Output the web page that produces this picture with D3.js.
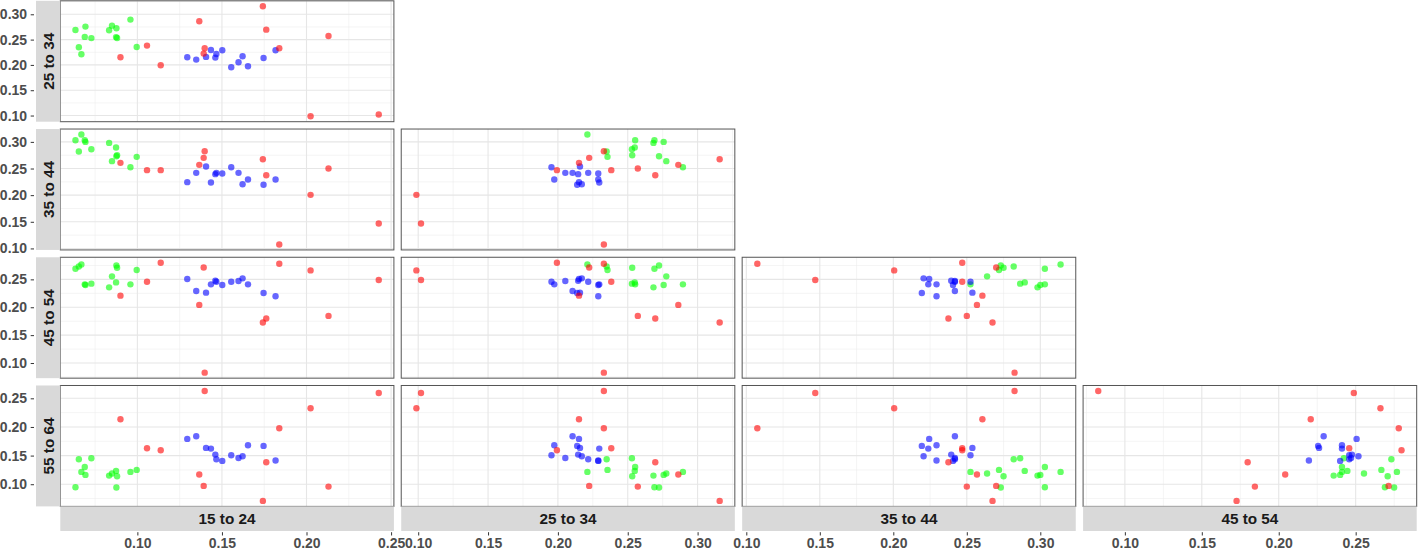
<!DOCTYPE html>
<html><head><meta charset="utf-8">
<script src="https://cdn.jsdelivr.net/npm/d3@7"></script>
<style>body{margin:0;background:#fff}svg{display:block}</style>
</head><body><svg id="chart" width="1418" height="550"></svg>
<script>
// ---- data ----
const variables = ["15 to 24", "25 to 34", "35 to 44", "45 to 54", "55 to 64"];
const cluster = [
  "1","1","1","1","1","1","1","1","1","1","1","1","1",
  "2","2","2","2","2","2","2","2","2","2","2","2","2",
  "3","3","3","3","3","3","3","3","3","3","3","3"
];
const age15_24 = [
  0.0634, 0.0654, 0.0669, 0.0689, 0.0693, 0.0728, 0.0833, 0.0850, 0.0876, 0.0880, 0.0874, 0.0959, 0.0996,
  0.1295, 0.1348, 0.1406, 0.1435, 0.1461, 0.1467, 0.1502, 0.1555, 0.1598, 0.1622, 0.1654, 0.1746, 0.1817,
  0.0900, 0.1057, 0.1138, 0.1366, 0.1392, 0.1398, 0.1742, 0.1762, 0.1839, 0.2024, 0.2130, 0.2427
];
const age25_34 = [
  0.2691, 0.2349, 0.2211, 0.2553, 0.2757, 0.2530, 0.2684, 0.2776, 0.2724, 0.2532, 0.2550, 0.2895, 0.2355,
  0.2151, 0.2105, 0.2158, 0.2296, 0.2145, 0.2217, 0.2289, 0.1954, 0.2053, 0.2171, 0.1974, 0.2138, 0.2289,
  0.2151, 0.2382, 0.1993, 0.2862, 0.2224, 0.2329, 0.3158, 0.2697, 0.2329, 0.0987, 0.2572, 0.1020
];
const age35_44 = [
  0.3031, 0.2819, 0.3138, 0.3031, 0.3000, 0.2863, 0.2981, 0.2638, 0.2731, 0.2750, 0.2894, 0.2525, 0.2719,
  0.2244, 0.2419, 0.2538, 0.2238, 0.2394, 0.2419, 0.2406, 0.2525, 0.2419, 0.2206, 0.2294, 0.2194, 0.2294,
  0.2606, 0.2469, 0.2469, 0.2569, 0.2700, 0.2825, 0.2675, 0.2375, 0.1075, 0.2006, 0.2500, 0.1469
];
const age45_54 = [
  0.2690, 0.2732, 0.2768, 0.2411, 0.2399, 0.2423, 0.2357, 0.2554, 0.2750, 0.2708, 0.2446, 0.2411, 0.2667,
  0.2506, 0.2292, 0.2262, 0.2411, 0.2476, 0.2458, 0.2399, 0.2458, 0.2470, 0.2518, 0.2411, 0.2256, 0.2196,
  0.2208, 0.2458, 0.2798, 0.2042, 0.2714, 0.0827, 0.1726, 0.1798, 0.2780, 0.2661, 0.1845, 0.2488
];
const age55_64 = [
  0.0948, 0.1436, 0.1215, 0.1302, 0.1163, 0.1453, 0.1151, 0.1186, 0.0942, 0.1140, 0.1233, 0.1215, 0.1250,
  0.1791, 0.1837, 0.1634, 0.1622, 0.1517, 0.1436, 0.1407, 0.1506, 0.1459, 0.1488, 0.1680, 0.1669, 0.1413,
  0.2134, 0.1628, 0.1593, 0.1169, 0.0971, 0.2628, 0.0709, 0.1384, 0.1977, 0.2326, 0.0959, 0.2593
];
const ticks15_24 = [0.10, 0.15, 0.20, 0.25];
const ticks25_34 = [0.10, 0.15, 0.20, 0.25, 0.30];
const ticks35_44 = [0.10, 0.15, 0.20, 0.25, 0.30];
const ticks45_54 = [0.10, 0.15, 0.20, 0.25];
const ticks55_64 = [0.10, 0.15, 0.20, 0.25];
const clusterColors = {"1": "#00FF00", "2": "#0000FF", "3": "#FF0000"};

// ---- build ----
const columns = [age15_24, age25_34, age35_44, age45_54, age55_64];
const tickSets = [ticks15_24, ticks25_34, ticks35_44, ticks45_54, ticks55_64];
const obs = cluster.map((c, i) => ({cluster: c, v: columns.map(col => col[i])}));

const svg = d3.select("#chart");
const leftX = 60.3, topY = 0.8, colW = 333.6, rowH = 120.9, gap = 7.33;
const stripW = 24.3, stripH = 24.6;
const nRow = 4, nCol = 4;
const bottomPanels = topY + nRow * rowH + (nRow - 1) * gap;
const font = "'Liberation Sans', Arial, Helvetica, sans-serif";

function expanded(vals) {
  const [a, b] = d3.extent(vals);
  const s = b - a;
  return [a - 0.05 * s, b + 0.05 * s];
}
function minorBreaks(domain, ticks) {
  const step = ticks[1] - ticks[0];
  const out = [];
  for (let k = -1; k < ticks.length; k++) {
    const m = ticks[0] + (k + 0.5) * step;
    if (m >= domain[0] && m <= domain[1]) out.push(m);
  }
  return out;
}

const xScales = [], yScales = [];
for (let c = 0; c < nCol; c++) {
  const x0 = leftX + c * (colW + gap);
  xScales.push(d3.scaleLinear().domain(expanded(columns[c])).range([x0, x0 + colW]));
}
for (let r = 0; r < nRow; r++) {
  const y0 = topY + r * (rowH + gap);
  yScales.push(d3.scaleLinear().domain(expanded(columns[r + 1])).range([y0 + rowH, y0]));
}

for (let r = 0; r < nRow; r++) {
  for (let c = 0; c <= r; c++) {
    const xs = xScales[c], ys = yScales[r];
    const xv = c, yv = r + 1;
    const g = svg.append("g");
    const [x0, x1] = xs.range();
    const [y1, y0] = ys.range();
    g.append("rect").attr("x", x0).attr("y", y0).attr("width", x1 - x0).attr("height", y1 - y0).attr("fill", "#fff");
    g.selectAll(".mx").data(minorBreaks(xs.domain(), tickSets[xv])).join("line").attr("class", "mx")
      .attr("x1", d => xs(d)).attr("x2", d => xs(d)).attr("y1", y0).attr("y2", y1)
      .attr("stroke", "#ebebeb").attr("stroke-width", 0.55);
    g.selectAll(".my").data(minorBreaks(ys.domain(), tickSets[yv])).join("line").attr("class", "my")
      .attr("y1", d => ys(d)).attr("y2", d => ys(d)).attr("x1", x0).attr("x2", x1)
      .attr("stroke", "#ebebeb").attr("stroke-width", 0.55);
    g.selectAll(".Mx").data(tickSets[xv]).join("line").attr("class", "Mx")
      .attr("x1", d => xs(d)).attr("x2", d => xs(d)).attr("y1", y0).attr("y2", y1)
      .attr("stroke", "#e6e6e6").attr("stroke-width", 1.1);
    g.selectAll(".My").data(tickSets[yv]).join("line").attr("class", "My")
      .attr("y1", d => ys(d)).attr("y2", d => ys(d)).attr("x1", x0).attr("x2", x1)
      .attr("stroke", "#e6e6e6").attr("stroke-width", 1.1);
    g.selectAll("circle").data(obs).join("circle")
      .attr("cx", d => xs(d.v[xv])).attr("cy", d => ys(d.v[yv])).attr("r", 3.2)
      .attr("fill", d => clusterColors[d.cluster]).attr("fill-opacity", 0.6);
    g.append("rect").attr("x", x0).attr("y", y0).attr("width", x1 - x0).attr("height", y1 - y0)
      .attr("fill", "none").attr("stroke", "#555").attr("stroke-width", 1);
  }
}

// left strips + y axes
for (let r = 0; r < nRow; r++) {
  const ys = yScales[r];
  const [y1, y0] = ys.range();
  svg.append("rect").attr("x", leftX - stripW).attr("y", y0).attr("width", stripW).attr("height", y1 - y0).attr("fill", "#d9d9d9");
  const cy = (y0 + y1) / 2, cx = leftX - stripW / 2;
  svg.append("text").attr("transform", `translate(${cx + 5.5},${cy}) rotate(-90)`)
    .attr("text-anchor", "middle").attr("font-family", font).attr("font-weight", "bold")
    .attr("font-size", 15.3).attr("fill", "#1a1a1a").text(variables[r + 1]);
  const ax = svg.append("g").attr("transform", `translate(${leftX - stripW - 2},0)`)
    .call(d3.axisLeft(ys).tickValues(tickSets[r + 1]).tickSize(3.3).tickPadding(3.6).tickFormat(d3.format(".2f")));
  ax.select(".domain").remove();
  ax.selectAll("line").attr("stroke", "#333").attr("stroke-width", 1);
  ax.selectAll("text").attr("font-family", font).attr("font-weight", "bold").attr("font-size", 14).attr("fill", "#4d4d4d");
}
// bottom strips + x axes
for (let c = 0; c < nCol; c++) {
  const xs = xScales[c];
  const [x0, x1] = xs.range();
  svg.append("rect").attr("x", x0).attr("y", bottomPanels).attr("width", x1 - x0).attr("height", stripH).attr("fill", "#d9d9d9");
  svg.append("text").attr("x", (x0 + x1) / 2).attr("y", bottomPanels + stripH / 2 + 5.5)
    .attr("text-anchor", "middle").attr("font-family", font).attr("font-weight", "bold")
    .attr("font-size", 15.3).attr("fill", "#1a1a1a").text(variables[c]);
  const ax = svg.append("g").attr("transform", `translate(0,${bottomPanels + stripH + 1.2})`)
    .call(d3.axisBottom(xs).tickValues(tickSets[c]).tickSize(3.3).tickPadding(2.6).tickFormat(d3.format(".2f")));
  ax.select(".domain").remove();
  ax.selectAll("line").attr("stroke", "#333").attr("stroke-width", 1);
  ax.selectAll("text").attr("font-family", font).attr("font-weight", "bold").attr("font-size", 14).attr("fill", "#4d4d4d");
}
</script>
</body></html>
